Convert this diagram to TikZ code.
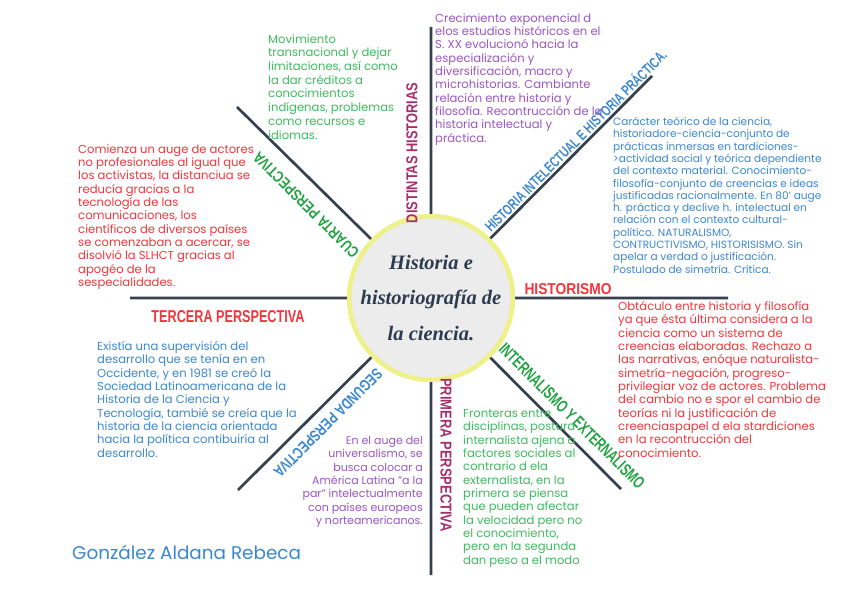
\documentclass[tikz,border=0pt]{standalone}
\usepackage{fontspec}
\usepackage{graphicx}
\setmainfont{Poppins}
\newfontfamily\titulofont{Liberation Serif}
\newfontfamily\rotulofont{Liberation Sans}
\usetikzlibrary{calc}

% Colores
\definecolor{linea}{HTML}{37404F}
\definecolor{verde}{HTML}{3DBB5E}
\definecolor{verdeosc}{HTML}{22A243}
\definecolor{morado}{HTML}{9A55C4}
\definecolor{azul}{HTML}{3B87D0}
\definecolor{rojo}{HTML}{F2363C}
\definecolor{granate}{HTML}{A52F6A}
\definecolor{tinta}{HTML}{2D3B50}
\definecolor{aro}{HTML}{EEF08A}
\definecolor{fondo}{HTML}{ECECEC}

\newlength\pxu
\setlength\pxu{0.03cm}
\newcommand\rotulo[3]{\resizebox{#1\pxu}{#2\pxu}{\rotulofont\bfseries #3}}

\begin{document}
\begin{tikzpicture}[
	x=0.03cm, y=-0.03cm,
	rayo/.style={draw=linea, line width=2.3pt},
	texto/.style={inner sep=0pt, font=\fontsize{9.9}{11.4}\selectfont},
	nucleo/.style={circle, fill=fondo, draw=aro, line width=4pt,
		minimum size=148\pxu, inner sep=0pt, align=center, text=tinta,
		font=\titulofont\bfseries\itshape\fontsize{17.5}{30}\selectfont}
	]
	
	% Marco
	\clip (0,0) rectangle (848,599);
	
	% Centro
	\node[nucleo] (nucleo) at (431,298)
	{Historia e\\historiografía de\\la ciencia.};
	
	% Puntas de los rayos
	\coordinate (arriba) at (431,27);
	\coordinate (abajo) at (431,575);
	\coordinate (izq) at (130,298);
	\coordinate (der) at (728,298);
	\coordinate (arribaizq) at (237,107);
	\coordinate (arribader) at (652,76);
	\coordinate (abajoizq) at (238,490);
	\coordinate (abajoder) at (621,489);
	
	% Rayos
	\draw[rayo]
	(nucleo) -- (arriba)
	(nucleo) -- (abajo)
	(nucleo) -- (izq)
	(nucleo) -- (der)
	(nucleo) -- (arribaizq)
	(nucleo) -- (arribader)
	(nucleo) -- (abajoizq)
	(nucleo) -- (abajoder);
	
	% Rotulos
	\node[text=granate, rotate=90] (distintas) at (412,153)
	{\rotulo{140}{11}{DISTINTAS HISTORIAS}};
	
	\node[text=granate, rotate=-90] (primera) at (446,455)
	{\rotulo{154}{11}{PRIMERA PERSPECTIVA}};
	
	\node[text=azul, rotate=45] (intelectual) at (575,140)
	{\rotulo{250}{13}{HISTORIA INTELECTUAL E HISTORIA PRÁCTICA.}};
	
	\node[text=verdeosc, rotate=135] (cuarta) at (306,205)
	{\rotulo{142}{11}{CUARTA PERSPECTIVA}};
	
	\node[text=azul, rotate=225] (segunda) at (328,423)
	{\rotulo{146}{11}{SEGUNDA PERSPECTIVA}};
	
	\node[text=verdeosc, rotate=-45] (interno) at (572,416)
	{\rotulo{198}{12}{INTERNALISMO Y EXTERNALISMO}};
	
	\node[text=rojo] (historismo) at (568,289)
	{\rotulo{87}{11}{HISTORISMO}};
	
	\node[text=rojo] (tercera) at (228,317)
	{\rotulo{153}{12}{TERCERA PERSPECTIVA}};
	
	% Textos
	\node[texto, text=verde, anchor=north west, align=left,
	font=\fontsize{9.9}{11.7}\selectfont] (movimiento) at (268,34)
	{Movimiento\\transnacional y dejar\\limitaciones, así como\\la dar créditos a\\conocimientos\\indígenas, problemas\\como recursos e\\idiomas.};
	
	\node[texto, text=morado, anchor=north west, align=left] (crecimiento) at (435,13)
	{Crecimiento exponencial d\\elos estudios históricos en el\\S. XX evolucionó hacia la\\especialización y\\diversificación, macro y\\microhistorias. Cambiante\\relación entre historia y\\filosofía. Recontrucción de la\\historia intelectual y\\práctica.};
	
	\node[texto, text=azul, anchor=north west, align=left,
	font=\fontsize{9}{10.5}\selectfont] (caracter) at (613,117)
	{Carácter teórico de la ciencia,\\historiadore-ciencia-conjunto de\\prácticas inmersas en tardiciones-\\>actividad social y teórica dependiente\\del contexto material. Conocimiento-\\filosofía-conjunto de creencias e ideas\\justificadas racionalmente. En 80' auge\\h. práctica y declive h. intelectual en\\relación con el contexto cultural-\\político. NATURALISMO,\\CONTRUCTIVISMO, HISTORISISMO. Sin\\apelar a verdad o justificación.\\Postulado de simetría. Crítica.};
	
	\node[texto, text=rojo, anchor=north west, align=left] (comienza) at (78,144)
	{Comienza un auge de actores\\no profesionales al igual que\\los activistas, la distanciua se\\reducía gracias a la\\tecnología de las\\comunicaciones, los\\científicos de diversos países\\se comenzaban a acercar, se\\disolvió la SLHCT gracias al\\apogéo de la\\sespecialidades.};
	
	\node[texto, text=rojo, anchor=north west, align=left] (obstaculo) at (618,301)
	{Obtáculo entre historia y filosofía\\ya que ésta última considera a la\\ciencia como un sistema de\\creencias elaboradas. Rechazo a\\las narrativas, enóque naturalista-\\simetría-negación, progreso-\\privilegiar voz de actores. Problema\\del cambio no e spor el cambio de\\teorías ni la justificación de\\creenciaspapel d ela stardiciones\\en la recontrucción del\\conocimiento.};
	
	\node[texto, text=azul, anchor=north west, align=left] (existia) at (97,341)
	{Existía una supervisión del\\desarrollo que se tenía en en\\Occidente, y en 1981 se creó la\\Sociedad Latinoamericana de la\\Historia de la Ciencia y\\Tecnología, tambié se creía que la\\historia de la ciencia orientada\\hacia la política contibuiría al\\desarrollo.};
	
	\node[texto, text=morado, anchor=north east, align=right,
	font=\fontsize{9.4}{11.4}\selectfont] (auge) at (423,436)
	{En el auge del\\universalismo, se\\busca colocar a\\América Latina "a la\\par" intelectualmente\\con países europeos\\y norteamericanos.};
	
	\node[texto, text=verde, anchor=north west, align=left] (fronteras) at (463,409)
	{Fronteras entre\\disciplinas, postura\\internalista ajena a\\factores sociales al\\contrario d ela\\externalista, en la\\primera se piensa\\que pueden afectar\\la velocidad pero no\\el conocimiento,\\pero en la segunda\\dan peso a el modo};
	
	% Autora
	\node[text=azul, anchor=west, inner sep=0pt, font=\fontsize{15.7}{17}\selectfont] (autora) at (72,552)
	{González Aldana Rebeca};
	
\end{tikzpicture}
\end{document}
